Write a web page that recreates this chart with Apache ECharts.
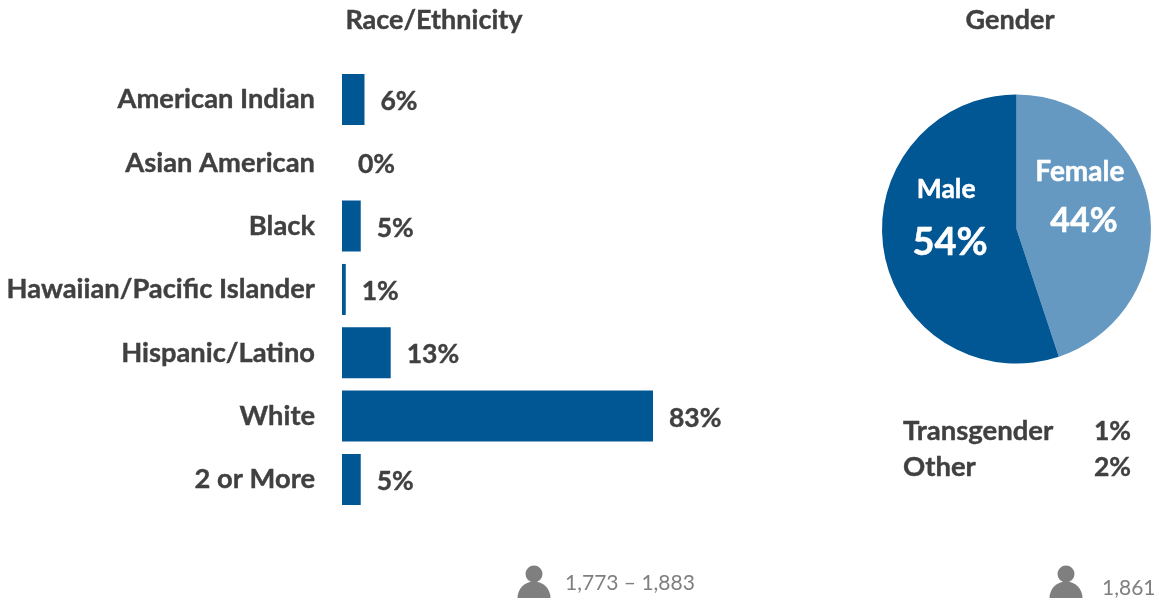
<!DOCTYPE html>
<html>
<head>
<meta charset="utf-8">
<style>html,body{margin:0;padding:0;background:#fff}#chart{width:1159px;height:600px}</style>
<script src="https://cdn.jsdelivr.net/npm/echarts@6/dist/echarts.min.js"></script>
</head>
<body>
<div id="chart"></div>
<script>
// Survey respondent demographics
const raceCategories = ['American Indian','Asian American','Black','Hawaiian/Pacific Islander','Hispanic/Latino','White','2 or More'];
const raceValues = [6,0,5,1,13,83,5];
const genderNames = ['Female','Male'];
const genderValues = [44,54];
const otherGenderNames = ['Transgender','Other'];
const otherGenderValues = [1,2];
const raceCount = '1,773 – 1,883';
const genderCount = '1,861';

const FONT = 'Lato, "Open Sans", sans-serif';
const DARK = '#404040', GREY = '#7f7f7f', BLUE = '#015694', LIGHT = '#6699c1';
const LABEL_SIZE = 27;
const HEAVY = {textBorderColor:DARK, textBorderWidth:0.4};
const HEAVY_WHITE = {textBorderColor:'#fff', textBorderWidth:0.5};

// Person glyph: a round head above a flat-bottomed dome
function personIcon(cx, top) {
  return {
    type: 'group', x: cx, y: top, children: [
      {type:'circle', shape:{cx:0,cy:8,r:8.5}, style:{fill:GREY}},
      {type:'sector', shape:{cx:0,cy:32,r:16.5,r0:0,startAngle:Math.PI,endAngle:2*Math.PI}, style:{fill:GREY}}
    ]
  };
}
const boldText = (x, y, text, align, size) => ({
  type:'text', x, y,
  style:{text, x:0, y:0, align:align||'left', verticalAlign:'middle', fill:DARK, stroke:DARK, lineWidth:0.4,
    font:'bold '+(size||LABEL_SIZE)+'px '+FONT}
});
const countText = (x, y, text) => ({
  type:'text', x, y,
  style:{text, align:'left', verticalAlign:'middle', fill:GREY, font:'21px '+FONT}
});
const pieRich = (nameSize, nameLine, valueSize, valueLine) => ({
  n:{fontFamily:FONT,fontWeight:'bold',fontSize:nameSize,lineHeight:nameLine,color:'#fff',padding:[0,8,0,0],...HEAVY_WHITE},
  v:{fontFamily:FONT,fontWeight:'bold',fontSize:valueSize,lineHeight:valueLine,color:'#fff',...HEAVY_WHITE}
});
const pieFormat = p => `{n|${p.name}}\n{v|${p.value}%}`;

const chart = echarts.init(document.getElementById('chart'), null, {renderer:'canvas'});
chart.setOption({
  animation:false,
  backgroundColor:'#fff',
  title:[
    {text:'Race/Ethnicity', left:429, top:15, textAlign:'center', textVerticalAlign:'middle',
     textStyle:{fontFamily:FONT, fontWeight:'bold', fontSize:LABEL_SIZE, color:DARK, ...HEAVY}},
    {text:'Gender', left:1005, top:15, textAlign:'center', textVerticalAlign:'middle',
     textStyle:{fontFamily:FONT, fontWeight:'bold', fontSize:LABEL_SIZE, color:DARK, ...HEAVY}}
  ],
  grid:{left:342, top:67.8, width:374.7, height:443.3},
  xAxis:{type:'value', min:0, max:100, show:false},
  yAxis:{type:'category', inverse:true, data:raceCategories,
    axisLine:{show:false}, axisTick:{show:false},
    axisLabel:{margin:27, align:'right', fontFamily:FONT, fontWeight:'bold', fontSize:27.3, color:DARK, ...HEAVY}},
  series:[
    {type:'bar', data:raceValues, barWidth:51, itemStyle:{color:BLUE},
     label:{show:true, position:'right', distance:16, offset:[0,2], formatter:'{c}%',
       fontFamily:FONT, fontWeight:'bold', fontSize:26.5, color:DARK, ...HEAVY}},
    {type:'pie', center:[1016.5,229], radius:[0,134.5], startAngle:90, clockwise:true,
     avoidLabelOverlap:false, labelLine:{show:false},
     data:[
       {name:genderNames[0], value:genderValues[0], itemStyle:{color:LIGHT},
        label:{show:true, position:'inner', offset:[-2,-20.5], formatter:pieFormat, rich:pieRich(28,47,34,50)}},
       {name:genderNames[1], value:genderValues[1], itemStyle:{color:BLUE},
        label:{show:true, position:'inner', offset:[3,-20.5], formatter:pieFormat, rich:pieRich(26.5,47,38,60)}}
     ]}
  ],
  graphic:[
    boldText(903,431,otherGenderNames[0],'left',27.5), boldText(1131,431,otherGenderValues[0]+'%','right',26.5),
    boldText(903,467,otherGenderNames[1],'left',27.5), boldText(1131,467,otherGenderValues[1]+'%','right',26.5),
    personIcon(534,566), countText(565,583,raceCount),
    personIcon(1066,566), countText(1102,588,genderCount)
  ]
});
</script>
</body>
</html>
